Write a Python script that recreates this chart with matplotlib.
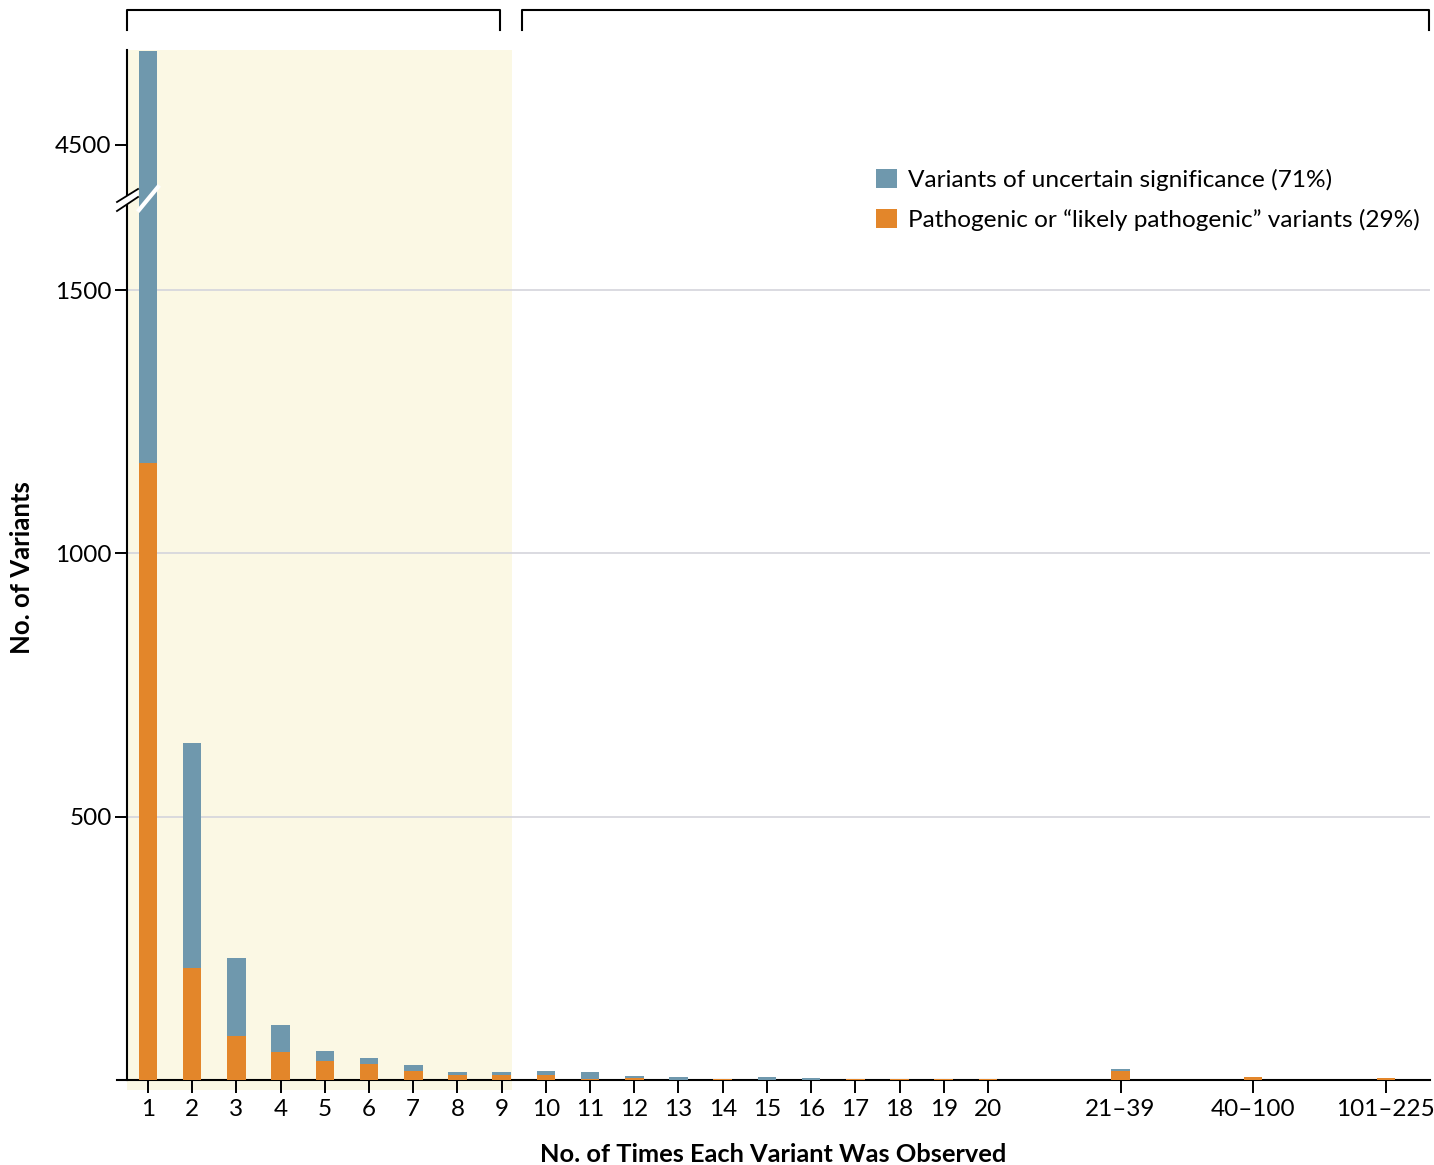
import numpy as np
import matplotlib
matplotlib.use("Agg")
import matplotlib.pyplot as plt
import matplotlib.transforms as mtransforms
from matplotlib.patches import Patch, Polygon
from matplotlib.lines import Line2D

plt.rcParams['font.family'] = ['Lato', 'DejaVu Sans']

# data
labels = [str(i) for i in range(1, 21)] + ['21\u201339', '40\u2013100', '101\u2013225']
xpos = list(range(1, 21)) + [23, 26, 29]
pathogenic = [1171, 213, 84, 53, 36, 30, 17, 9, 9, 9, 1, 4, 0, 2, 0, 0, 2, 2, 2, 2, 17, 6, 3]
vus = [3509, 427, 148, 52, 19, 12, 11, 7, 7, 9, 14, 4, 5, 0, 6, 3, 0, 0, 0, 0, 3, 0, 0]

blue = '#6f98ad'
orange = '#e3862a'
yellow = '#fbf8e4'
W, H = 1434, 1165

fig = plt.figure(figsize=(W / 100, H / 100), dpi=100)

# axes placement in pixels (x axis line starts a little left of the y axis)
left_px, right_px = 117, 1430
bot_px, brk_px, top_px = 1080, 198, 50
ax = fig.add_axes([left_px / W, 1 - bot_px / H, (right_px - left_px) / W, (bot_px - brk_px) / H])
ax_top = fig.add_axes([left_px / W, 1 - brk_px / H, (right_px - left_px) / W, (brk_px - top_px) / H], sharex=ax)

yaxis_x = 0.525
xmin, xmax = 0.299, 30.0
ax.set_xlim(xmin, xmax)
ax.set_ylim(0, 1675)
ax_top.set_ylim(4399, 4681)

for a in (ax, ax_top):
    a.set_facecolor('none')
    a.axvspan(yaxis_x, 9.24, color=yellow, zorder=0, lw=0)
    a.bar(xpos, pathogenic, width=0.42, color=orange, zorder=3)
    a.bar(xpos, vus, width=0.42, bottom=pathogenic, color=blue, zorder=3)
    for s in ['top', 'right']:
        a.spines[s].set_visible(False)
    a.spines['left'].set_position(('data', yaxis_x))
    a.spines['left'].set_linewidth(1.5)
    a.tick_params(axis='y', direction='out', length=9, width=1.4, pad=2, labelsize=17.5)

# yellow band dips just under the x axis
ax.axvspan(yaxis_x, 9.24, ymin=-0.011, ymax=0, color=yellow, zorder=0, lw=0, clip_on=False)

ax.set_yticks([500, 1000, 1500])
ax.set_yticklabels(['500', '1000', '1500'])
for yv in [500, 1000, 1500]:
    ax.plot([yaxis_x, xmax], [yv, yv], color='#d4d4dc', lw=1.2, zorder=1)
ax.spines['bottom'].set_linewidth(1.5)
ax.set_xticks(xpos)
ax.set_xticklabels(labels)
ax.tick_params(axis='x', direction='out', length=9, width=1.4, pad=5, labelsize=17.5)

ax_top.set_yticks([4500])
ax_top.spines['bottom'].set_visible(False)
ax_top.tick_params(axis='x', bottom=False, labelbottom=False)

ax.set_xlabel('No. of Times Each Variant Was Observed', fontsize=18.3, fontweight='bold', labelpad=16)
fig.text(22 / W, 1 - 568 / H, 'No. of Variants', rotation=90, ha='center', va='center',
         fontsize=18.5, fontweight='bold')

# break marks
def fp(x, y):
    return (x / W, 1 - y / H)

fig.add_artist(Line2D([fp(139, 210)[0], fp(158, 187)[0]], [fp(139, 210)[1], fp(158, 187)[1]],
                      color='white', lw=3, zorder=10))
fig.add_artist(Polygon([fp(118, 202), fp(138, 189), fp(138, 197), fp(118, 211)],
                       closed=True, facecolor='white', edgecolor='none', zorder=10))
for (x0, y0, x1, y1) in [(117, 202, 138, 189), (117, 211, 138, 197)]:
    fig.add_artist(Line2D([fp(x0, y0)[0], fp(x1, y1)[0]], [fp(x0, y0)[1], fp(x1, y1)[1]],
                          color='black', lw=1.3, zorder=11))

# brackets above the plot
trans = mtransforms.blended_transform_factory(ax.transData, fig.transFigure)
yb, yt = 1 - 10 / H, 1 - 30 / H
for (b0, b1) in [(yaxis_x, 8.96), (9.46, 29.98)]:
    ax.plot([b0, b0, b1, b1], [yt, yb, yb, yt], color='black', lw=1.5,
            transform=trans, clip_on=False)

handles = [Patch(facecolor=blue, edgecolor='none'), Patch(facecolor=orange, edgecolor='none')]
fig.legend(handles, ['Variants of uncertain significance (71%)',
                     'Pathogenic or \u201clikely pathogenic\u201d variants (29%)'],
           loc='upper left', bbox_to_anchor=(866 / W, 1 - 159 / H), frameon=False,
           fontsize=17.6, handlelength=0.85, handleheight=0.85, handletextpad=0.45,
           labelspacing=0.72, borderaxespad=0)

fig.savefig('out.png', dpi=100)
